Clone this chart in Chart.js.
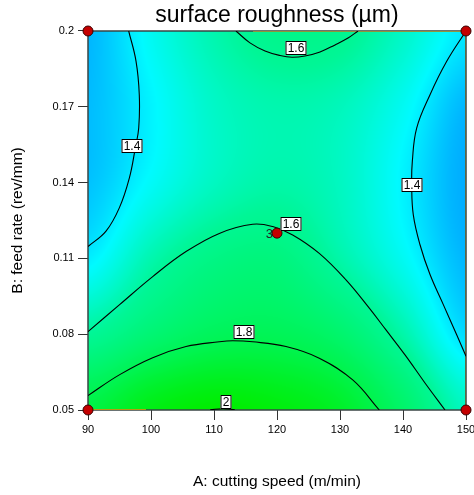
<!DOCTYPE html>
<html>
<head>
<meta charset="utf-8">
<title>surface roughness</title>
<script src="https://cdn.jsdelivr.net/npm/chart.js@4.4.1/dist/chart.umd.min.js"></script>
<style>
  html, body { margin: 0; padding: 0; background: #fff; }
  canvas { display: block; }
</style>
</head>
<body>
<canvas id="surface" width="474" height="495"></canvas>
<script>
// axis ticks
const speedTicks = [90, 100, 110, 120, 130, 140, 150];
const feedTicks = [0.05, 0.08, 0.11, 0.14, 0.17, 0.2];

// roughness on the speed/feed grid, rows run from feed 0.05 up to 0.2
const gridSpeed = [90, 100, 110, 120, 130, 140, 150];
const gridFeed = [0.05, 0.08, 0.11, 0.14, 0.17, 0.2];
const roughness = [
  [1.83, 1.95, 2.00, 1.97, 1.90, 1.73, 1.53],
  [1.60, 1.70, 1.77, 1.78, 1.72, 1.57, 1.38],
  [1.41, 1.56, 1.65, 1.67, 1.57, 1.45, 1.32],
  [1.34, 1.44, 1.53, 1.57, 1.53, 1.42, 1.30],
  [1.33, 1.42, 1.52, 1.56, 1.54, 1.45, 1.32],
  [1.32, 1.45, 1.56, 1.63, 1.62, 1.52, 1.40]
];

// contour lines as [speed, feed] pairs
const contour14Left = [[96.46, 0.2], [97.62, 0.1881], [98.14, 0.1748], [98.05, 0.1616], [97.51, 0.1537],
  [96.56, 0.1418], [94.97, 0.1300], [92.86, 0.1208], [90.0, 0.1147]];
const contour16Top = [[113.49, 0.2], [115.71, 0.1953], [118.10, 0.1921], [120.48, 0.1903], [122.38, 0.1896],
  [124.44, 0.1901], [126.83, 0.1917], [129.21, 0.1945], [131.27, 0.1972], [132.86, 0.2]];
const contour14Right = [[150, 0.2], [146.94, 0.1880], [144.29, 0.1748], [142.17, 0.1616], [141.48, 0.1484],
  [141.38, 0.1392], [141.63, 0.1273], [142.70, 0.1154], [144.29, 0.1036], [146.40, 0.0917],
  [148.52, 0.0798], [150, 0.0713]];
const contour16Mid = [[90, 0.0810], [94.97, 0.0916], [100.27, 0.1028], [105.56, 0.1127], [110.84, 0.1199],
  [116.14, 0.1235], [119.32, 0.1226], [122.49, 0.1193], [126.71, 0.1120], [130.95, 0.1015],
  [134.65, 0.0903], [137.30, 0.0817], [140.32, 0.0718], [143.49, 0.0607], [146.67, 0.05]];
const contour18 = [[90, 0.0557], [94.97, 0.0639], [100.27, 0.0707], [105.56, 0.0751], [110.84, 0.0770],
  [112.97, 0.0774], [116.14, 0.0770], [121.43, 0.0751], [126.71, 0.0705], [132.02, 0.0619], [136.24, 0.05]];
const contour20 = [[109.4, 0.0501], [111.4, 0.0505], [113.3, 0.0501]];

const contourLines = [contour14Left, contour16Top, contour14Right, contour16Mid, contour18, contour20];
const contourLevels = [1.4, 1.6, 1.4, 1.6, 1.8, 2.0];
const labelSpeed = [97.03, 123.02, 141.38, 122.27, 114.73, 111.83];
const labelFeed = [0.1544, 0.1932, 0.1392, 0.1235, 0.0810, 0.0533];

// design points and their replicate counts
const designSpeed = [90, 90, 150, 150, 120];
const designFeed = [0.05, 0.2, 0.05, 0.2, 0.12];
const designReps = ['', '', '', '', '3'];

// edge highlights of the design space
const bottomEdge = [[90, 0.05], [99.2, 0.05]];
const topEdge = [[116.2, 0.2], [150, 0.2]];
const rightEdge = [[150, 0.05], [150, 0.2]];

// blue -> cyan -> green -> yellow colour ramp
const colorStops = [
  [1.20, [0, 120, 255]],
  [1.32, [0, 182, 255]],
  [1.43, [0, 250, 255]],
  [1.60, [0, 246, 150]],
  [1.80, [0, 244, 80]],
  [2.00, [0, 238, 0]],
  [2.20, [240, 240, 0]]
];

const FONT = "Arial, 'Liberation Sans', sans-serif";
Chart.defaults.font.family = FONT;
Chart.defaults.color = '#000';

function colorFor(v) {
  const s = colorStops;
  if (v <= s[0][0]) return s[0][1];
  for (let k = 1; k < s.length; k++) {
    if (v <= s[k][0]) {
      const t = (v - s[k - 1][0]) / (s[k][0] - s[k - 1][0]);
      return s[k - 1][1].map((c, i) => c + (s[k][1][i] - c) * t);
    }
  }
  return s[s.length - 1][1];
}

function locate(arr, v) {
  let i = 0;
  while (i < arr.length - 2 && v > arr[i + 1]) i++;
  const t = Math.min(1, Math.max(0, (v - arr[i]) / (arr[i + 1] - arr[i])));
  return [i, t];
}

// catmull-rom along one row / column
function cubic(p, i, t) {
  const n = p.length;
  const p0 = p[Math.max(0, i - 1)], p1 = p[i], p2 = p[Math.min(n - 1, i + 1)], p3 = p[Math.min(n - 1, i + 2)];
  const t2 = t * t, t3 = t2 * t;
  return 0.5 * ((2 * p1) + (-p0 + p2) * t + (2 * p0 - 5 * p1 + 4 * p2 - p3) * t2 + (-p0 + 3 * p1 - 3 * p2 + p3) * t3);
}

function roughnessAt(a, b) {
  const [i, tx] = locate(gridSpeed, a);
  const [j, ty] = locate(gridFeed, b);
  const col = roughness.map(row => cubic(row, i, tx));
  return cubic(col, j, ty);
}

const surfacePlugin = {
  id: 'surface',
  beforeDatasetsDraw(chart) {
    const { ctx, chartArea: a, scales: { x, y } } = chart;
    const left = Math.round(a.left), top = Math.round(a.top);
    const w = Math.round(a.right) - left, h = Math.round(a.bottom) - top;
    const img = ctx.createImageData(w, h);
    for (let j = 0; j < h; j++) {
      const feed = y.getValueForPixel(top + j + 0.5);
      for (let i = 0; i < w; i++) {
        const speed = x.getValueForPixel(left + i + 0.5);
        const c = colorFor(roughnessAt(speed, feed));
        const k = (j * w + i) * 4;
        img.data[k] = c[0];
        img.data[k + 1] = c[1];
        img.data[k + 2] = c[2];
        img.data[k + 3] = 255;
      }
    }
    ctx.putImageData(img, left, top);

    // plot frame
    ctx.save();
    ctx.strokeStyle = '#3a4646';
    ctx.lineWidth = 1.5;
    ctx.strokeRect(a.left, a.top, a.right - a.left, a.bottom - a.top);
    ctx.restore();
  },
  afterDatasetsDraw(chart) {
    const { ctx, scales: { x, y } } = chart;
    ctx.save();
    ctx.font = '12px ' + FONT;
    ctx.textAlign = 'center';
    ctx.textBaseline = 'middle';
    contourLevels.forEach((level, k) => {
      const px = Math.round(x.getPixelForValue(labelSpeed[k]));
      const py = Math.round(y.getPixelForValue(labelFeed[k]));
      const text = String(level);
      const w = Math.ceil(ctx.measureText(text).width) + 4;
      const h = 14;
      ctx.fillStyle = '#fff';
      ctx.fillRect(px - w / 2, py - h / 2, w, h);
      ctx.strokeStyle = '#000';
      ctx.lineWidth = 1;
      ctx.strokeRect(px - w / 2 + 0.5, py - h / 2 + 0.5, w - 1, h - 1);
      ctx.fillStyle = '#000';
      ctx.fillText(text, px, py + 0.5);
    });

    // replicate count beside the centre point
    ctx.font = '13px ' + FONT;
    ctx.textAlign = 'right';
    ctx.fillStyle = '#222';
    designReps.forEach((rep, k) => {
      if (!rep) return;
      ctx.fillText(rep, x.getPixelForValue(designSpeed[k]) - 4, y.getPixelForValue(designFeed[k]) + 1);
    });
    ctx.restore();
  }
};

const toPoints = pairs => pairs.map(([a, b]) => ({ x: a, y: b }));

const lineSet = (pairs, color, width) => ({
  data: toPoints(pairs),
  showLine: true,
  borderColor: color,
  borderWidth: width,
  pointRadius: 0,
  pointHoverRadius: 0,
  tension: 0.4,
  fill: false
});

const datasets = [
  {
    label: 'design points',
    data: designSpeed.map((s, k) => ({ x: s, y: designFeed[k] })),
    pointRadius: 5,
    pointBackgroundColor: '#c40000',
    pointBorderColor: '#3a0000',
    pointBorderWidth: 1,
    clip: false
  },
  ...contourLines.map(line => lineSet(line, '#000', 1.1)),
  lineSet(bottomEdge, '#e8a800', 1.5),
  lineSet(topEdge, '#b0a030', 1.5),
  lineSet(rightEdge, '#6e6a30', 1.5)
];

const tickFont = { size: 11 };

new Chart(document.getElementById('surface'), {
  type: 'scatter',
  data: { datasets },
  plugins: [surfacePlugin],
  options: {
    responsive: false,
    animation: false,
    events: [],
    layout: { padding: 0 },
    plugins: {
      legend: { display: false },
      tooltip: { enabled: false },
      title: {
        display: true,
        fullSize: false,
        text: 'surface roughness (µm)',
        color: '#000',
        font: { size: 23, weight: 'normal', lineHeight: 1.2 },
        padding: { top: 1.5, bottom: 1.9 }
      }
    },
    scales: {
      x: {
        type: 'linear',
        min: 90,
        max: 150,
        afterBuildTicks: s => { s.ticks = speedTicks.map(v => ({ value: v })); },
        afterFit: s => { s.height = 85; s.paddingRight = 8; s.paddingLeft = 0; },
        ticks: { font: tickFont, color: '#000', padding: 3, maxRotation: 0, autoSkip: false },
        grid: { drawOnChartArea: false, drawTicks: true, tickLength: 10, color: '#333', lineWidth: 1 },
        border: { display: false },
        title: {
          display: true,
          text: 'A: cutting speed (m/min)',
          color: '#000',
          font: { size: 15.5, lineHeight: 1.2 },
          padding: { top: 0, bottom: 4 }
        }
      },
      y: {
        type: 'linear',
        min: 0.05,
        max: 0.2,
        afterBuildTicks: s => { s.ticks = feedTicks.map(v => ({ value: v })); },
        afterFit: s => { s.width = 88; s.paddingTop = 0; s.paddingBottom = 0; },
        ticks: { font: tickFont, color: '#000', padding: 4, autoSkip: false, callback: v => String(v) },
        grid: { drawOnChartArea: false, drawTicks: true, tickLength: 10, color: '#333', lineWidth: 1 },
        border: { display: false },
        title: {
          display: true,
          text: 'B: feed rate (rev/mm)',
          color: '#000',
          font: { size: 15.5, lineHeight: 1.2 },
          padding: { top: 8, bottom: 0 }
        }
      }
    }
  }
});
</script>
</body>
</html>
